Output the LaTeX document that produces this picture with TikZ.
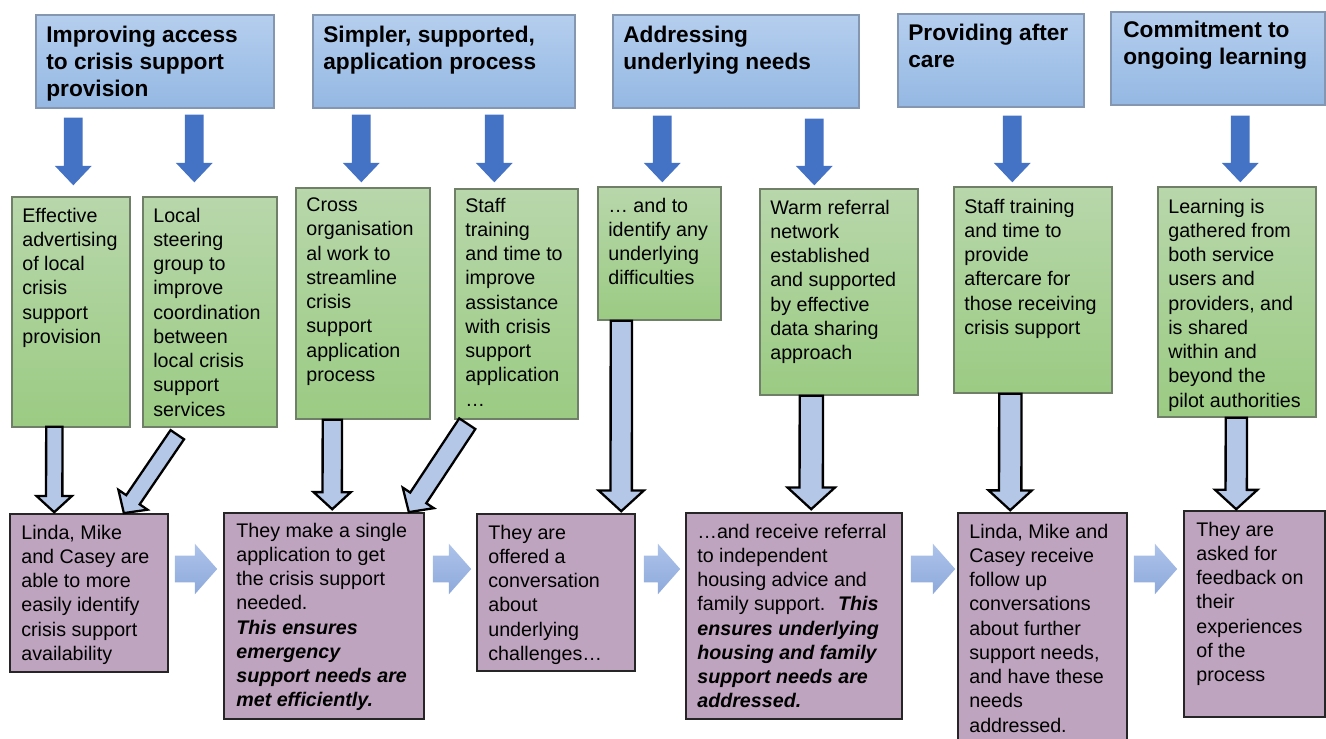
\documentclass[tikz,border=0pt]{standalone}
\usepackage{fontspec}
\setmainfont{Liberation Sans}
\usetikzlibrary{calc,fit,shapes.arrows}

\definecolor{hdtop}{HTML}{B5CEEE}
\definecolor{hdbot}{HTML}{94B8E3}
\definecolor{hdline}{HTML}{8496B0}
\definecolor{grtop}{HTML}{B8D7AB}
\definecolor{grbot}{HTML}{9BCB83}
\definecolor{grline}{HTML}{6F7F68}
\definecolor{pufill}{HTML}{BEA4BF}
\definecolor{puline}{HTML}{262626}
\definecolor{dkarrow}{HTML}{4472C4}
\definecolor{ltarrow}{HTML}{B4C7E7}
\definecolor{flowtop}{HTML}{ADC3EA}
\definecolor{flowbot}{HTML}{8DA9DB}

\newcommand{\bolditalic}[1]{{\bfseries\itshape #1}}

\tikzset{
  % a block arrow drawn as a single-arrow node from the start point to the target point
  blockarrow/.style={to path={
      let \p1=(\tikztostart), \p2=(\tikztotarget),
          \n1={atan2(\y2-\y1,\x2-\x1)}, \n2={veclen(\x2-\x1,\y2-\y1)}
      in node[single arrow, inner xsep=0pt, outer sep=0pt, minimum width=0pt,
              rotate=\n1, minimum height=\n2, anchor=tail, #1] at (\p1) {}}},
  darrow/.style={fill=dkarrow, draw=none, inner ysep=0.18cm,
                 single arrow head extend=0.18cm, single arrow tip angle=87},
  harrow/.style 2 args={fill=ltarrow, draw=black, line width=1.3pt, inner ysep=#1,
                 single arrow head extend=#2, single arrow tip angle=95},
  farrow/.style={top color=flowtop, bottom color=flowbot, draw=none, inner ysep=0.26cm,
                 single arrow head extend=0.24cm, single arrow tip angle=97},
  headbox/.style={draw=hdline, line width=0.8pt, top color=hdtop, bottom color=hdbot, inner sep=0pt},
  greenbox/.style={draw=grline, line width=0.8pt, top color=grtop, bottom color=grbot, inner sep=0pt},
  purplebox/.style={draw=puline, line width=0.9pt, fill=pufill, inner sep=0pt},
  % text blocks are placed near the baseline of their first line
  headtext/.style={anchor=north west, inner sep=0pt, align=left, yshift=9.7pt,
                   execute at begin node={\rule{0pt}{12pt}},
                   font=\fontsize{12.9}{15.5}\selectfont\bfseries},
  bodytext/.style={anchor=north west, inner sep=0pt, align=left, yshift=8.2pt,
                   execute at begin node={\rule{0pt}{10.5pt}},
                   font=\fontsize{11.2}{13.8}\selectfont},
}

\begin{document}
\begin{tikzpicture}[x=0.02cm, y=-0.02cm]
\useasboundingbox (0,0) rectangle (1326,738);

% ---- strands (top row) ----
\node[headbox, fit={(36,15) (274,108)}] (t1) {};
\node[headtext] (t1txt) at (46,42.5) {Improving access\\to crisis support\\provision};
\node[headbox, fit={(313,15) (575,108)}] (t2) {};
\node[headtext] (t2txt) at (323,42.5) {Simpler, supported,\\application process};
\node[headbox, fit={(613,15) (859,108)}] (t3) {};
\node[headtext] (t3txt) at (623,42.5) {Addressing\\underlying needs};
\node[headbox, fit={(898,14) (1084,107)}] (t4) {};
\node[headtext] (t4txt) at (908,41) {Providing after\\care};
\node[headbox, fit={(1111,12) (1325,105)}] (t5) {};
\node[headtext] (t5txt) at (1123,38) {Commitment to\\ongoing learning};

% ---- activities (middle row) ----
\node[greenbox, fit={(12,197) (130,427)}] (g1) {};
\node[bodytext] (g1txt) at (22,222) {Effective\\advertising\\of local\\crisis\\support\\provision};
\node[greenbox, fit={(143,197) (277,427)}] (g2) {};
\node[bodytext] (g2txt) at (153,222) {Local\\steering\\group to\\improve\\coordination\\between\\local crisis\\support\\services};
\node[greenbox, fit={(296,188) (430,419)}] (g3) {};
\node[bodytext] (g3txt) at (306,212) {Cross\\organisation\\al work to\\streamline\\crisis\\support\\application\\process};
\node[greenbox, fit={(455,189) (578,419)}] (g4) {};
\node[bodytext] (g4txt) at (465,212) {Staff\\training\\and time to\\improve\\assistance\\with crisis\\support\\application\\…};
\node[greenbox, fit={(598,187) (721,320)}] (g5) {};
\node[bodytext] (g5txt) at (608,212) {… and to\\identify any\\underlying\\difficulties};
\node[greenbox, fit={(760,189) (918,395)}] (g6) {};
\node[bodytext] (g6txt) at (770,214) {Warm referral\\network\\established\\and supported\\by effective\\data sharing\\approach};
\node[greenbox, fit={(954,187) (1112,393)}] (g7) {};
\node[bodytext] (g7txt) at (964,213) {Staff training\\and time to\\provide\\aftercare for\\those receiving\\crisis support};
\node[greenbox, fit={(1158,187) (1316,417)}] (g8) {};
\node[bodytext] (g8txt) at (1168,213) {Learning is\\gathered from\\both service\\users and\\providers, and\\is shared\\within and\\beyond the\\pilot authorities};

% ---- outcomes (bottom row) ----
\node[purplebox, fit={(10,514) (168,672)}] (p1) {};
\node[bodytext] (p1txt) at (21,539) {Linda, Mike\\and Casey are\\able to more\\easily identify\\crisis support\\availability};
\node[purplebox, fit={(224,513) (424,719)}] (p2) {};
\node[bodytext] (p2txt) at (236,537) {They make a single\\application to get\\the crisis support\\needed.\\\bolditalic{This ensures}\\\bolditalic{emergency}\\\bolditalic{support needs are}\\\bolditalic{met efficiently.}};
\node[purplebox, fit={(477,514) (635,671)}] (p3) {};
\node[bodytext] (p3txt) at (488,539) {They are\\offered a\\conversation\\about\\underlying\\challenges…};
\node[purplebox, fit={(686,513) (902,719)}] (p4) {};
\node[bodytext] (p4txt) at (697,538) {…and receive referral\\to independent\\housing advice and\\family support.~ \bolditalic{This}\\\bolditalic{ensures underlying}\\\bolditalic{housing and family}\\\bolditalic{support needs are}\\\bolditalic{addressed.}};
\node[purplebox, fit={(958,513) (1127,745)}] (p5) {};
\node[bodytext] (p5txt) at (969,538) {Linda, Mike and\\Casey receive\\follow up\\conversations\\about further\\support needs,\\and have these\\needs\\addressed.};
\node[purplebox, fit={(1184,511) (1325,717)}] (p6) {};
\node[bodytext] (p6txt) at (1196,536) {They are\\asked for\\feedback on\\their\\experiences\\of the\\process};

% ---- strand to activity arrows ----
\path ($(t1.south west)+(38,9)$)   to[blockarrow={darrow, name=d1}] ($(g1.north west)+(62,-11)$);
\path ($(t1.south west)+(159,6)$)  to[blockarrow={darrow, name=d2}] ($(g2.north west)+(52,-14)$);
\path ($(t2.south west)+(49,6)$)   to[blockarrow={darrow, name=d3}] ($(g3.north west)+(66,-5)$);
\path ($(t2.south west)+(182,6)$)  to[blockarrow={darrow, name=d4}] ($(g4.north west)+(40,-6)$);
\path ($(t3.south west)+(50,7)$)   to[blockarrow={darrow, name=d5}] ($(g5.north west)+(65,-4)$);
\path ($(t3.south west)+(202,10)$) to[blockarrow={darrow, name=d6}] ($(g6.north west)+(55,-3)$);
\path ($(t4.south west)+(115,8)$)  to[blockarrow={darrow, name=d7}] ($(g7.north west)+(59,-4)$);
\path ($(t5.south west)+(130,10)$) to[blockarrow={darrow, name=d8}] ($(g8.north west)+(83,-4)$);

% ---- activity to outcome arrows ----
\path ($(g1.south west)+(43,-1)$) to[blockarrow={harrow={0.14cm}{0.19cm}, name=h1}] ($(p1.north west)+(45,-1)$);
\path ($(g2.south west)+(35,7)$)  to[blockarrow={harrow={0.14cm}{0.19cm}, name=h2}] ($(p1.north east)+(-45,0)$);
\path ($(g3.south west)+(37,0)$)  to[blockarrow={harrow={0.17cm}{0.18cm}, name=h3}] ($(p2.north west)+(109,-3)$);
\path ($(g4.south west)+(13,4)$)  to[blockarrow={harrow={0.17cm}{0.18cm}, name=h4}] ($(p2.north east)+(-16,0)$);
\path ($(g5.south west)+(24,0)$)  to[blockarrow={harrow={0.19cm}{0.24cm}, name=h5}] ($(p3.north west)+(145,-2)$);
\path ($(g6.south west)+(52,0)$)  to[blockarrow={harrow={0.21cm}{0.24cm}, name=h6}] ($(p4.north west)+(126,-3)$);
\path ($(g7.south west)+(57,0)$)  to[blockarrow={harrow={0.20cm}{0.21cm}, name=h7}] ($(p5.north west)+(53,-2)$);
\path ($(g8.south west)+(79,0)$)  to[blockarrow={harrow={0.19cm}{0.21cm}, name=h8}] ($(p6.north west)+(53,-1)$);

% ---- outcome to outcome arrows ----
\coordinate (flowy) at (0,569);
\path ($(p1.east |- flowy)+(6,0)$) to[blockarrow={farrow, name=f1}] ($(p2.west |- flowy)+(-6,0)$);
\path ($(p2.east |- flowy)+(8,0)$) to[blockarrow={farrow, name=f2}] ($(p3.west |- flowy)+(-5,0)$);
\path ($(p3.east |- flowy)+(8,0)$) to[blockarrow={farrow, name=f3}] ($(p4.west |- flowy)+(-5,0)$);
\path ($(p4.east |- flowy)+(8,0)$) to[blockarrow={farrow, name=f4}] ($(p5.west |- flowy)+(-2,0)$);
\path ($(p5.east |- flowy)+(6,0)$) to[blockarrow={farrow, name=f5}] ($(p6.west |- flowy)+(-6,0)$);
\end{tikzpicture}
\end{document}
